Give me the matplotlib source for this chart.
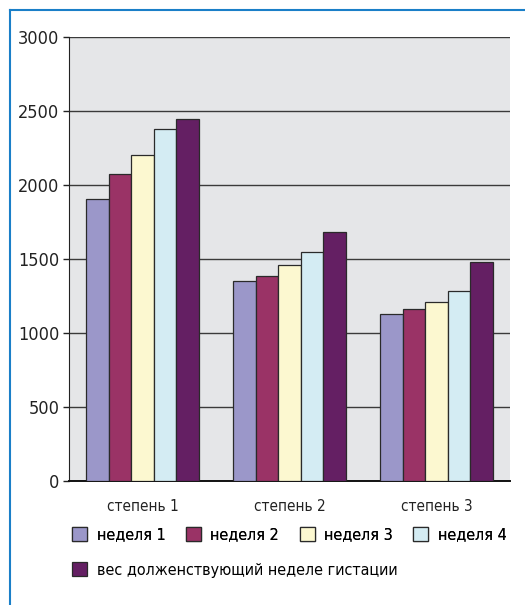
import numpy as np
import matplotlib.pyplot as plt
from matplotlib.patches import Patch
from matplotlib.lines import Line2D

plt.rcParams['font.family'] = ['DejaVu Sans']
plt.rcParams['font.stretch'] = 'condensed'

# data
categories = ['степень 1', 'степень 2', 'степень 3']
series_names = ['неделя 1', 'неделя 2', 'неделя 3', 'неделя 4',
                'вес долженствующий неделе гистации']
week1 = [1905, 1350, 1128]
week2 = [2076, 1384, 1163]
week3 = [2206, 1462, 1208]
week4 = [2381, 1550, 1283]
norm_weight = [2445, 1685, 1481]
colors = ['#9b97c9', '#9a3366', '#fcf8d0', '#d4ecf3', '#641f63']

values = [week1, week2, week3, week4, norm_weight]

fig = plt.figure(figsize=(5.25, 6.05), dpi=100)
ax = fig.add_axes([69 / 525, 1 - 481 / 605, 441 / 525, 444 / 605])
ax.set_facecolor('#e5e6e8')

x = np.arange(len(categories))
w = 0.154
for i, vals in enumerate(values):
    ax.bar(x + (i - 2) * w, vals, width=w, color=colors[i],
           edgecolor='#2a2a2a', linewidth=0.9, zorder=3)

ax.set_xlim(-0.5, 2.5)
ax.set_ylim(0, 3000)
ax.set_yticks(range(0, 3001, 500))
ax.set_xticks(x)
ax.set_xticklabels(categories)
ax.yaxis.grid(True, color='#3a3a3a', linewidth=1.0, zorder=1)
ax.set_axisbelow(True)
for s in ['top', 'right']:
    ax.spines[s].set_visible(False)
ax.spines['left'].set_color('#222222')
ax.spines['bottom'].set_color('#111111')
ax.spines['bottom'].set_linewidth(1.4)
ax.tick_params(axis='y', length=4, width=1, labelsize=13, pad=3, colors='#222222')
ax.tick_params(axis='x', length=0, labelsize=11, pad=13, colors='#222222')

# legend
fs = 11.5
handles = [Patch(facecolor=c, edgecolor='#2a2a2a', linewidth=0.9) for c in colors]
leg1 = fig.legend(handles[:4], series_names[:4], ncol=4, loc='center left',
                  bbox_to_anchor=(72 / 525, 1 - 535 / 605), frameon=False,
                  fontsize=fs, handlelength=0.94, handleheight=0.94,
                  handletextpad=0.6, columnspacing=1.28, borderpad=0,
                  borderaxespad=0)
fig.add_artist(leg1)
fig.legend(handles[4:], series_names[4:], loc='center left',
           bbox_to_anchor=(72 / 525, 1 - 570 / 605), frameon=False,
           fontsize=fs, handlelength=0.94, handleheight=0.94,
           handletextpad=0.6, borderpad=0, borderaxespad=0)

# blue frame
fig.add_artist(Line2D([9.5 / 525, 9.5 / 525], [0, 1 - 9.5 / 605],
                      transform=fig.transFigure, color='#1a7fc8', linewidth=1.5))
fig.add_artist(Line2D([9.5 / 525, 1], [1 - 9.5 / 605, 1 - 9.5 / 605],
                      transform=fig.transFigure, color='#1a7fc8', linewidth=1.5))

fig.savefig('out.png', dpi=100)
